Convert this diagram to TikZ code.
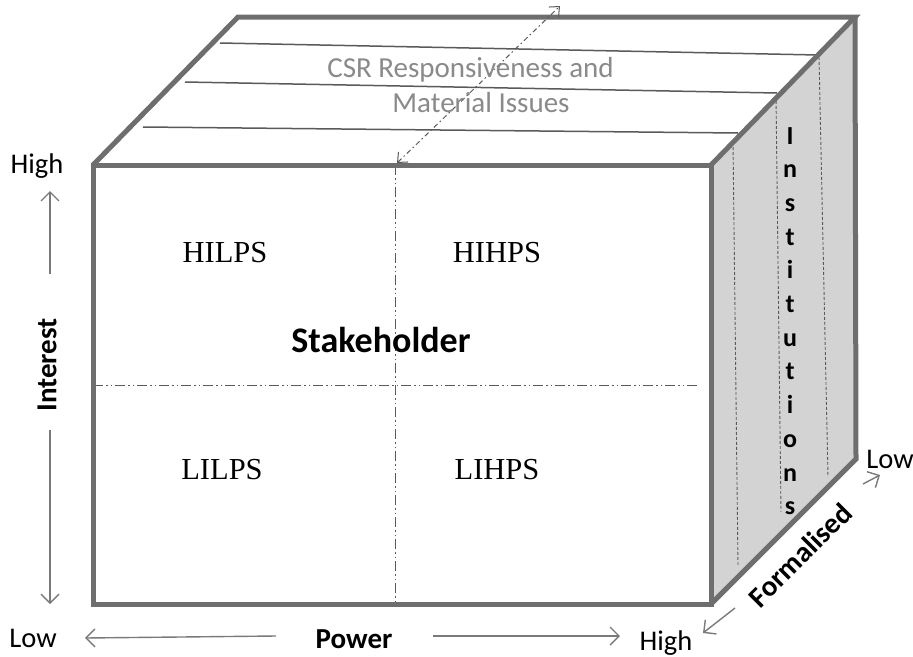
\documentclass[tikz,border=0pt]{standalone}
\usepackage{fontspec}
\setmainfont{Carlito}
\newfontfamily\tnr{Liberation Serif}
\usetikzlibrary{arrows.meta}
\definecolor{edgec}{HTML}{6E6E6E}
\definecolor{sidec}{HTML}{D3D3D3}
\definecolor{arrc}{HTML}{7A7A7A}
\definecolor{csrc}{HTML}{8A8A8A}
\definecolor{linec}{HTML}{5A5A5A}
\tikzset{
  box/.style={draw=edgec,line width=5pt,line join=miter},
  topline/.style={draw=linec,line width=1.5pt},
  sidedash/.style={draw=linec,line width=0.9pt,dash pattern=on 3pt off 2pt},
  quad/.style={draw=linec,line width=1pt,dash pattern=on 10pt off 3pt on 1.5pt off 3pt on 1.5pt off 3pt},
  axarrow/.style={draw=arrc,line width=1.4pt,-{Straight Barb[length=9pt,width=18pt]}},
  dblarrow/.style={draw=linec,line width=1pt,dash pattern=on 5pt off 3pt on 1.5pt off 3pt,{Straight Barb[length=8pt,width=14pt]}-{Straight Barb[length=8pt,width=14pt]}},
  axlabel/.style={font=\fontsize{28.5}{32}\selectfont,text=black,anchor=base,inner sep=0pt},
  axtitle/.style={font=\fontsize{29}{32}\selectfont\bfseries,text=black,inner sep=0pt},
  cell/.style={font=\tnr\fontsize{30.5}{32}\selectfont,text=black,anchor=base,inner sep=0pt},
  csr/.style={font=\fontsize{29}{32}\selectfont,text=csrc,anchor=base,inner sep=0pt},
}
\begin{document}
\begin{tikzpicture}[x=1pt,y=-1pt]
\useasboundingbox (0,0) rectangle (913,656);
% corners
\coordinate (A) at (93,165);
\coordinate (B) at (711,165);
\coordinate (C) at (711,604);
\coordinate (D) at (93,604);
\coordinate (E) at (238,17);
\coordinate (F) at (855,17);
\coordinate (G) at (856,459);
% faces
\fill[white] (A) -- (E) -- (F) -- (B) -- cycle;
\fill[sidec] (B) -- (F) -- (G) -- (C) -- cycle;
% top face lines
\coordinate (l1a) at (220,43);  \coordinate (l1b) at (818,55);
\coordinate (l2a) at (185,82);  \coordinate (l2b) at (777,93);
\coordinate (l3a) at (143,127); \coordinate (l3b) at (738,133);
\draw[topline] (l1a) -- (l1b);
\draw[topline] (l2a) -- (l2b);
\draw[topline] (l3a) -- (l3b);
% right face dashed lines
\coordinate (d1a) at (819,57);  \coordinate (d1b) at (828,477);
\coordinate (d2a) at (776,96);  \coordinate (d2b) at (781,512);
\coordinate (d3a) at (733,142); \coordinate (d3b) at (738,566);
\draw[sidedash] (d1a) -- (d1b);
\draw[sidedash] (d2a) -- (d2b);
\draw[sidedash] (d3a) -- (d3b);
% quadrant lines
\coordinate (vt) at (395,165); \coordinate (vb) at (395,604);
\coordinate (hl) at (93,385);  \coordinate (hr) at (697,385);
\draw[quad] (vt) -- (vb);
\draw[quad] (hl) -- (hr);
% outlines
\draw[box] (A) -- (B) -- (C) -- (D) -- cycle;
\draw[box] (A) -- (E) -- (F) -- (B);
\draw[box] (F) -- (G) -- (C);
% double arrow on top
\coordinate (ua) at (397,163); \coordinate (ub) at (560,6);
\draw[dblarrow] (ua) -- (ub);
% texts
\node[csr] (csr1) at (470.5,77) {CSR Responsiveness and};
\node[csr] (csr2) at (481,112) {Material Issues};
\node[cell] (hilps) at (225,262) {HILPS};
\node[cell] (hihps) at (497,262) {HIHPS};
\node[cell] (lilps) at (222,479) {LILPS};
\node[cell] (lihps) at (497,479) {LIHPS};
\node[font=\fontsize{36}{38}\selectfont\bfseries,anchor=base,inner sep=0pt] (stake) at (381,352) {Stakeholder};
\node[font=\fontsize{26}{33.7}\selectfont\bfseries,align=center,inner sep=0pt,anchor=north] (inst) at (790,127) {I\\n\\s\\t\\i\\t\\u\\t\\i\\o\\n\\s};
% axes
\node[axlabel] (ihigh) at (37,173) {High};
\node[axlabel] (ilow) at (33,647) {Low};
\node[axtitle,rotate=90] (interest) at (47,365) {Interest};
\coordinate (iu1) at (50,274); \coordinate (iu2) at (50,191);
\coordinate (id1) at (50,430); \coordinate (id2) at (50,604);
\draw[axarrow] (iu1) -- (iu2);
\draw[axarrow] (id1) -- (id2);
\node[axtitle,anchor=base] (power) at (354,648) {Power};
\node[axlabel] (phigh) at (666,650) {High};
\coordinate (pl1) at (276,636); \coordinate (pl2) at (85,638);
\coordinate (pr1) at (433,636); \coordinate (pr2) at (620,636);
\draw[axarrow] (pl1) -- (pl2);
\draw[axarrow] (pr1) -- (pr2);
\node[axtitle,rotate=45] (formal) at (800,555) {Formalised};
\node[axlabel] (flow) at (890,468) {Low};
\coordinate (fl1) at (735,608); \coordinate (fl2) at (703,633);
\coordinate (fr1) at (863,484); \coordinate (fr2) at (880,475);
\draw[axarrow] (fl1) -- (fl2);
\draw[axarrow] (fr1) -- (fr2);
\end{tikzpicture}
\end{document}
